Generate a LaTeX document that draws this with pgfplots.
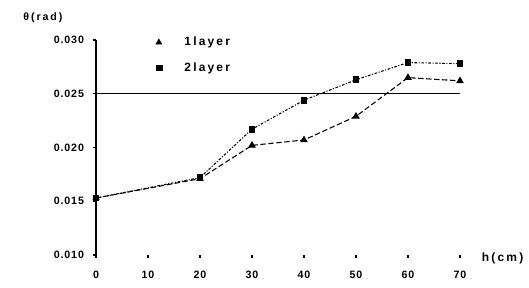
\documentclass[border=0pt]{standalone}
\usepackage{fontspec}
\setmainfont{Liberation Sans}
\setsansfont{Liberation Sans}
\newfontfamily\tickf[LetterSpace=8]{Liberation Sans}
\newfontfamily\lblf[LetterSpace=18]{Liberation Sans}
\usepackage{pgfplots}
\pgfplotsset{compat=1.18}
\begin{document}
\begin{tikzpicture}[font=\fontsize{8.5}{9}\selectfont\bfseries]
\useasboundingbox (-72pt,-24pt) rectangle (324.75pt,191.25pt);
\begin{axis}[
  scale only axis, width=273pt, height=161.25pt,
  xmin=0, xmax=70, ymin=0.010, ymax=0.030,
  clip=false,
  axis y line*=left, axis x line*=bottom,
  x axis line style={draw=none},
  y axis line style={line width=1pt, black},
  xtick={0,10,...,70}, ytick={0.010,0.015,0.020,0.025,0.030},
  tick align=outside, major tick length=2.5pt,
  tick style={black, line width=0.9pt},
  xticklabel style={font=\tickf\fontsize{8}{9}\selectfont\bfseries, yshift=-6pt},
  yticklabel style={font=\tickf\fontsize{8}{9}\selectfont\bfseries, xshift=-3pt, /pgf/number format/fixed, /pgf/number format/fixed zerofill, /pgf/number format/precision=3},
  /pgf/number format/assume math mode=true,
  scaled y ticks=false,
  legend style={draw=none, fill=none, at={(axis cs:10.7,0.0308)}, anchor=north west, font=\lblf\fontsize{9}{9}\selectfont\bfseries, row sep=7pt, legend cell align=left, nodes={inner xsep=8pt}},
]
\addplot[black, line width=0.9pt, forget plot] coordinates {(0,0.025) (70,0.025)};
\addplot[black, line width=0.8pt, dash pattern=on 4pt off 2pt, mark=triangle*, mark size=2.5pt, mark options={solid}, forget plot] coordinates {
(0,0.0153) (20,0.0171) (30,0.0202) (40,0.0207) (50,0.0229) (60,0.0265) (70,0.0262)};
\addplot[black, line width=0.8pt, dash pattern=on 2pt off 1.2pt on 0.8pt off 1.2pt, mark=square*, mark size=2.2pt, mark options={solid}, forget plot] coordinates {
(0,0.0153) (20,0.0172) (30,0.0217) (40,0.0244) (50,0.0263) (60,0.0279) (70,0.0278)};
\addlegendimage{only marks, black, mark=triangle*, mark size=2.5pt}
\addlegendentry{\hspace{9pt}1layer}
\addlegendimage{only marks, black, mark=square*, mark size=2.2pt}
\addlegendentry{\hspace{9pt}2layer}
\node[anchor=center, font=\lblf\fontsize{8}{9}\selectfont\bfseries] at (axis cs:-10.2,0.0321) {θ(rad)};
\node[anchor=center, font=\lblf\fontsize{9}{9}\selectfont\bfseries] at (axis cs:78.2,0.0097) {h(cm)};
\end{axis}
\end{tikzpicture}
\end{document}
